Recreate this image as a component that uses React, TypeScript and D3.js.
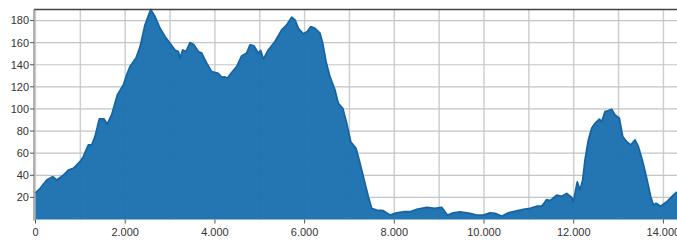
import React from "react";
import * as d3 from "d3";

const distances = [0, 100, 250, 383, 472, 620, 732, 843, 992, 1066, 1177, 1253, 1327, 1423, 1527, 1601, 1698, 1825, 1958, 2033, 2107, 2241, 2330, 2441, 2568, 2664, 2776, 2887, 2999, 3110, 3184, 3222, 3282, 3356, 3445, 3534, 3630, 3705, 3817, 3928, 4076, 4151, 4225, 4277, 4374, 4485, 4597, 4708, 4783, 4872, 4968, 5021, 5080, 5191, 5340, 5489, 5601, 5712, 5786, 5860, 5971, 6061, 6135, 6232, 6343, 6403, 6477, 6566, 6678, 6752, 6850, 6939, 7028, 7146, 7235, 7347, 7421, 7496, 7607, 7755, 7904, 8053, 8201, 8350, 8499, 8722, 8908, 9056, 9182, 9316, 9465, 9688, 9837, 9985, 10134, 10245, 10394, 10543, 10729, 10877, 11026, 11175, 11287, 11398, 11472, 11621, 11732, 11844, 11955, 11992, 12080, 12141, 12201, 12252, 12327, 12401, 12475, 12571, 12624, 12698, 12772, 12847, 12921, 13017, 13093, 13182, 13271, 13367, 13442, 13539, 13628, 13717, 13776, 13835, 13940, 14074, 14221, 14303];
const elevations = [24, 28, 35.7, 38.7, 35.7, 40, 44.7, 46.3, 52.3, 56.8, 67.4, 67.4, 75, 91, 91, 86.4, 94.6, 112.7, 121.7, 130.8, 138.3, 146, 156, 176, 190, 183.6, 173, 165.5, 159.5, 153.4, 152, 146, 153.4, 152, 160, 158, 152, 150.5, 141.4, 133.8, 132.3, 128.7, 129, 127.8, 133, 138.3, 148, 150.5, 158, 157, 150.5, 153, 145, 153.4, 161, 171.6, 176, 183, 180.6, 173, 168, 170, 174.5, 173, 168.6, 159.5, 143, 129, 117, 105, 100.6, 87, 70.4, 64.4, 50.8, 32.7, 20.6, 10, 8.5, 7.9, 4, 6, 7, 7, 9.1, 11, 10, 11, 4, 6, 7, 5.5, 4, 4, 6, 5.5, 3, 6, 7.9, 9.1, 10, 12, 12, 18, 17, 22, 21, 23.6, 20, 16, 34, 26.6, 35.7, 53.8, 72, 82.5, 87, 90.7, 88.5, 97.6, 98.5, 99.7, 94.6, 91.6, 75, 70.4, 67.4, 72, 65.9, 52.3, 37.2, 20.6, 13, 14.6, 12, 16, 22, 25];

const yTicks = [20, 40, 60, 80, 100, 120, 140, 160, 180];
const xGrid = [0, 1000, 2000, 3000, 4000, 5000, 6000, 7000, 8000, 9000, 10000, 11000, 12000, 13000, 14000];
const xTickLabels = [0, 2000, 4000, 6000, 8000, 10000, 12000, 14000];

const W = 677;
const H = 241;
const left = 34;
const top = 9.5;
const bottom = 219.5;

export default function App() {
  const x = d3.scaleLinear().domain([0, 14303]).range([35.5, 677]);
  const y = d3.scaleLinear().domain([0, 190]).range([bottom, top]);
  const data = distances.map((d, i) => ({ d, e: elevations[i] }));
  const area = d3
    .area<{ d: number; e: number }>()
    .x((p) => x(p.d))
    .y0(bottom)
    .y1((p) => y(p.e));
  const line = d3
    .line<{ d: number; e: number }>()
    .x((p) => x(p.d))
    .y((p) => y(p.e));
  const fmt = (v: number) => (v === 0 ? "0" : d3.format(",")(v).replace(/,/g, "."));
  const font = "'Liberation Sans', Arial, sans-serif";

  return (
    <svg
      width={W}
      height={H}
      style={{ position: "absolute", left: 0, top: 0, background: "#fff" }}
      fontFamily={font}
    >
      {xGrid.map((v) => (
        <line key={"vx" + v} x1={x(v)} x2={x(v)} y1={top} y2={bottom} stroke="#cfcfcf" strokeWidth={1.5} />
      ))}
      {yTicks.map((v) => (
        <line key={"hy" + v} x1={left} x2={W} y1={y(v)} y2={y(v)} stroke="#c4c4c4" strokeWidth={1.2} />
      ))}
      <path d={area(data) || ""} fill="#1b70b0" fillOpacity={0.96} />
      <path d={line(data) || ""} fill="none" stroke="#1565a6" strokeWidth={1.8} strokeLinejoin="round" />
      <line x1={left} x2={W} y1={top} y2={top} stroke="#444" strokeWidth={1.5} />
      <line x1={left} x2={left} y1={top} y2={bottom + 1} stroke="#999" strokeWidth={1.5} />
      {yTicks.map((v) => (
        <g key={"yt" + v}>
          <line x1={left - 4} x2={left} y1={y(v)} y2={y(v)} stroke="#555" strokeWidth={1} />
          <text x={left - 5} y={y(v)} dy="0.35em" textAnchor="end" fontSize={11} fill="#333">
            {v}
          </text>
        </g>
      ))}
      {xTickLabels.map((v) => (
        <g key={"xt" + v}>
          <line x1={x(v)} x2={x(v)} y1={bottom} y2={bottom + 4} stroke="#555" strokeWidth={1} />
          <text x={x(v)} y={bottom + 16} textAnchor="middle" fontSize={11} fill="#333">
            {fmt(v)}
          </text>
        </g>
      ))}
    </svg>
  );
}
